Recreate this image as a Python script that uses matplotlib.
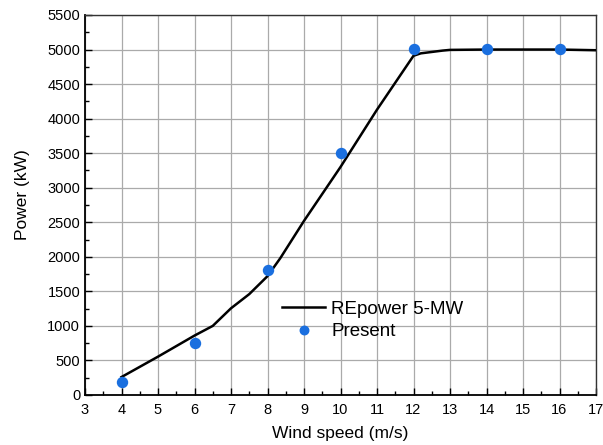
import matplotlib
matplotlib.use("Agg")
import matplotlib.pyplot as plt
from matplotlib.ticker import MultipleLocator

plt.rcParams['font.family'] = ['Liberation Sans', 'DejaVu Sans']

# REpower 5-MW reference curve
curve_ws = [4.0, 5.0, 6.0, 6.5, 7.0, 7.5, 8.0, 8.35, 9.0, 10.0, 11.0, 12.0, 12.2, 12.8, 13.0, 14.0, 15.0, 16.0, 16.5, 17.0]
curve_kw = [260, 555, 860, 1000, 1255, 1460, 1720, 1980, 2520, 3300, 4130, 4910, 4945, 4985, 4995, 5000, 5000, 5000, 4995, 4990]

# Present results
pres_ws = [4, 6, 8, 10, 12, 14, 16]
pres_kw = [193, 750, 1808, 3498, 5002, 5002, 5002]

fig = plt.figure(figsize=(6.03, 4.45), dpi=100)
ax = fig.add_axes([85/603, 1-395/445, (596-85)/603, (395-15)/445])

ax.plot(curve_ws, curve_kw, color='black', lw=1.8, label='REpower 5-MW', zorder=3)
ax.plot(pres_ws, pres_kw, 'o', color='#1a6fdf', markersize=7.2, label='Present', zorder=4)

ax.set_xlim(3, 17)
ax.set_ylim(0, 5500)
ax.xaxis.set_major_locator(MultipleLocator(1))
ax.xaxis.set_minor_locator(MultipleLocator(0.5))
ax.yaxis.set_major_locator(MultipleLocator(500))
ax.yaxis.set_minor_locator(MultipleLocator(250))
ax.grid(True, which='major', color='#aaaaaa', lw=0.9, zorder=0)
ax.tick_params(which='both', direction='in', top=False, right=False, labelsize=10.5, colors='black')
ax.tick_params(which='major', length=5, width=1)
ax.tick_params(which='minor', length=3, width=1)
ax.tick_params(axis='x', pad=6)
for s in ['left', 'bottom']:
    ax.spines[s].set_linewidth(1.3)
for s in ['top', 'right']:
    ax.spines[s].set_linewidth(1.0)
    ax.spines[s].set_color('#333333')

ax.set_xlabel('Wind speed (m/s)', fontsize=12.5, labelpad=6)
ax.set_ylabel('Power (kW)', fontsize=12.5)
ax.yaxis.set_label_coords(-0.108, 0.527)

leg = ax.legend(loc='upper left', bbox_to_anchor=(0.386, 0.249), frameon=False, fontsize=13.5,
                handlelength=2.3, handletextpad=0.32, labelspacing=0.3, borderaxespad=0,
                borderpad=0, markerscale=0.85)

fig.savefig('out.png', dpi=100)
